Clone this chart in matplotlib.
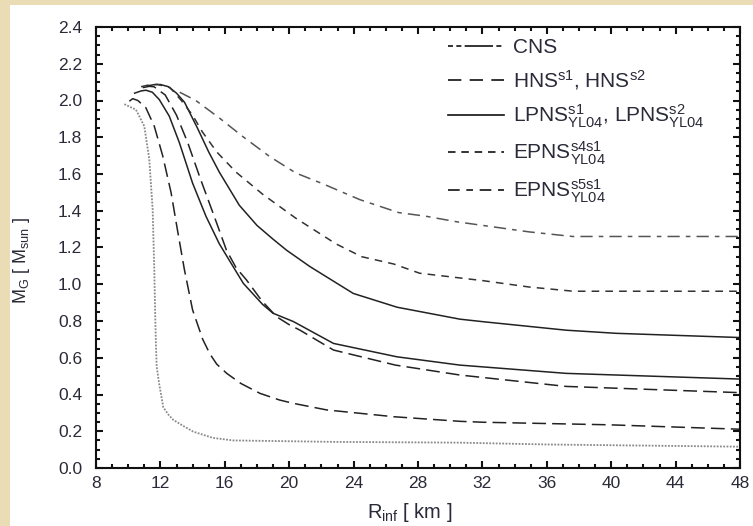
import numpy as np
import matplotlib
matplotlib.use('Agg')
import matplotlib.pyplot as plt
from matplotlib.lines import Line2D
from matplotlib.patches import Rectangle
from matplotlib.ticker import MultipleLocator, FormatStrFormatter

plt.rcParams['font.family'] = ['Liberation Sans', 'DejaVu Sans']
plt.rcParams['mathtext.fontset'] = 'custom'
plt.rcParams['mathtext.rm'] = 'Liberation Sans'
plt.rcParams['mathtext.it'] = 'Liberation Sans'
plt.rcParams['mathtext.default'] = 'rm'

# radius at infinity [km] vs gravitational mass [M_sun]
r_a = [9.76, 10.48, 11.0, 11.31, 11.52, 11.62, 11.68, 11.73, 11.77, 11.93, 12.18, 12.5, 12.8, 13.4, 14.04, 15.25, 16.52, 22.9, 30.6, 36.0, 48.0]
m_a = [1.98, 1.95, 1.86, 1.68, 1.405, 1.08, 0.82, 0.65, 0.551, 0.455, 0.33, 0.29, 0.262, 0.23, 0.198, 0.164, 0.150, 0.142, 0.138, 0.128, 0.116]

r_b = [10.07, 10.28, 10.6, 11.1, 11.62, 12.14, 12.66, 13.07, 13.49, 14.0, 14.63, 15.08, 15.5, 16.12, 17.0, 18.19, 19.4, 20.25, 22.33, 26.5, 30.6, 32.06, 39.9, 48.0]
m_b = [1.996, 2.01, 2.0, 1.96, 1.86, 1.70, 1.50, 1.29, 1.08, 0.86, 0.70, 0.62, 0.565, 0.515, 0.46, 0.406, 0.37, 0.352, 0.316, 0.279, 0.254, 0.249, 0.235, 0.211]

r_c = [10.4, 10.8, 11.1, 11.5, 11.93, 12.55, 13.18, 14.0, 14.83, 15.66, 16.49, 17.15, 18.35, 19.0, 20.26, 22.75, 26.7, 30.6, 37.2, 48.0]
m_c = [2.04, 2.052, 2.056, 2.045, 2.005, 1.915, 1.77, 1.55, 1.37, 1.22, 1.10, 1.005, 0.89, 0.842, 0.797, 0.678, 0.605, 0.56, 0.515, 0.484]

r_d = [10.9, 11.3, 11.6, 12.3, 13.0, 13.7, 14.5, 15.3, 16.1, 16.7, 17.35, 18.3, 19.22, 20.0, 20.67, 22.75, 26.6, 30.6, 37.2, 48.0]
m_d = [2.07, 2.077, 2.075, 2.03, 1.92, 1.77, 1.57, 1.38, 1.186, 1.09, 1.023, 0.91, 0.823, 0.78, 0.75, 0.642, 0.56, 0.506, 0.444, 0.41]

r_e = [11.2, 11.6, 12.0, 12.5, 13.0, 13.5, 14.3, 15.0, 15.66, 16.9, 18.0, 19.0, 19.84, 21.29, 23.98, 26.7, 30.6, 32.06, 37.2, 40.3, 48.0]
m_e = [2.08, 2.086, 2.087, 2.075, 2.04, 1.99, 1.85, 1.72, 1.61, 1.43, 1.32, 1.245, 1.185, 1.096, 0.95, 0.875, 0.81, 0.796, 0.75, 0.733, 0.71]

r_f = [10.8, 11.3, 11.8, 12.6, 13.3, 14.0, 14.6, 15.5, 16.7, 18.35, 20.4, 22.9, 24.5, 26.5, 28.1, 32.0, 34.9, 37.65, 48.0]
m_f = [2.075, 2.085, 2.088, 2.07, 2.0, 1.92, 1.83, 1.72, 1.61, 1.49, 1.36, 1.22, 1.15, 1.11, 1.06, 1.02, 0.985, 0.962, 0.962]

r_g = [13.2, 14.2, 15.66, 17.1, 18.77, 20.42, 22.0, 24.4, 26.8, 28.5, 30.4, 34.9, 37.6, 48.0]
m_g = [2.045, 2.0, 1.905, 1.805, 1.696, 1.605, 1.55, 1.46, 1.39, 1.37, 1.34, 1.285, 1.26, 1.26]

labels = ['CNS',
          r'HNS$^{s1}$, HNS$^{s2}$',
          r'LPNS$^{s1}_{YL04}$, LPNS$^{s2}_{YL04}$',
          r'EPNS$^{s4s1}_{YL04}$',
          r'EPNS$^{s5s1}_{YL04}$']

txt = '#2a2a38'

fig = plt.figure(figsize=(7.53, 5.26), dpi=100, facecolor='#EADCB4')
fig.patches.append(Rectangle((10 / 753, 0), 743 / 753, 521 / 526, transform=fig.transFigure,
                             facecolor='white', edgecolor='none', zorder=-1))
ax = fig.add_axes([96 / 753, 1 - 468 / 526, 644 / 753, 441 / 526])

lw = 1.1
ax.plot(r_a, m_a, color='#8a8a8a', lw=1.3, linestyle=(0, (1, 0.8)))
ax.plot(r_b, m_b, color='#222222', lw=lw, dashes=(9, 4))
ax.plot(r_c, m_c, color='#222222', lw=lw)
ax.plot(r_d, m_d, color='#222222', lw=lw, dashes=(9, 4))
ax.plot(r_e, m_e, color='#222222', lw=lw)
ax.plot(r_f, m_f, color='#333333', lw=lw, dashes=(5, 4))
ax.plot(r_g, m_g, color='#555555', lw=lw, dashes=(8, 4, 3, 4))

ax.set_xlim(8, 48)
ax.set_ylim(0, 2.4)
ax.xaxis.set_major_locator(MultipleLocator(4))
ax.xaxis.set_minor_locator(MultipleLocator(1))
ax.yaxis.set_major_locator(MultipleLocator(0.2))
ax.yaxis.set_minor_locator(MultipleLocator(0.05))
ax.yaxis.set_major_formatter(FormatStrFormatter('%.1f'))
ax.tick_params(which='both', direction='in', top=True, right=True, color='#111111', width=1.5,
               labelsize=12.5, labelcolor=txt)
ax.tick_params(which='major', length=5, pad=6)
ax.tick_params(axis='y', which='major', pad=10)
ax.tick_params(which='minor', length=2.8)
for s in ax.spines.values():
    s.set_linewidth(1.5)
    s.set_color('#111111')

ax.set_xlabel(r'R$_{inf}$ [ km ]', fontsize=14.5, color=txt, labelpad=3)
ax.xaxis.set_label_coords(0.487, -0.075)
ax.set_ylabel(r'M$_G$ [ M$_{sun}$ ]', fontsize=13, color=txt)
ax.yaxis.set_label_coords(-0.1, 0.47)

handles = [Line2D([], [], color='#111111', lw=1.2, dashes=(3, 2, 3, 2, 14, 0.01)),
           Line2D([], [], color='#111111', lw=1.2, dashes=(8, 5)),
           Line2D([], [], color='#111111', lw=1.2),
           Line2D([], [], color='#111111', lw=1.2, dashes=(4.5, 3.5)),
           Line2D([], [], color='#111111', lw=1.2, dashes=(7, 4, 4, 4))]
leg = ax.legend(handles, labels, loc='upper left', bbox_to_anchor=(0.52, 1.012), frameon=False,
                fontsize=15, handlelength=2.7, handletextpad=0.45, labelspacing=0.5, borderpad=0.3)
for t in leg.get_texts():
    t.set_color(txt)

fig.savefig('out.png', dpi=100, facecolor=fig.get_facecolor())
